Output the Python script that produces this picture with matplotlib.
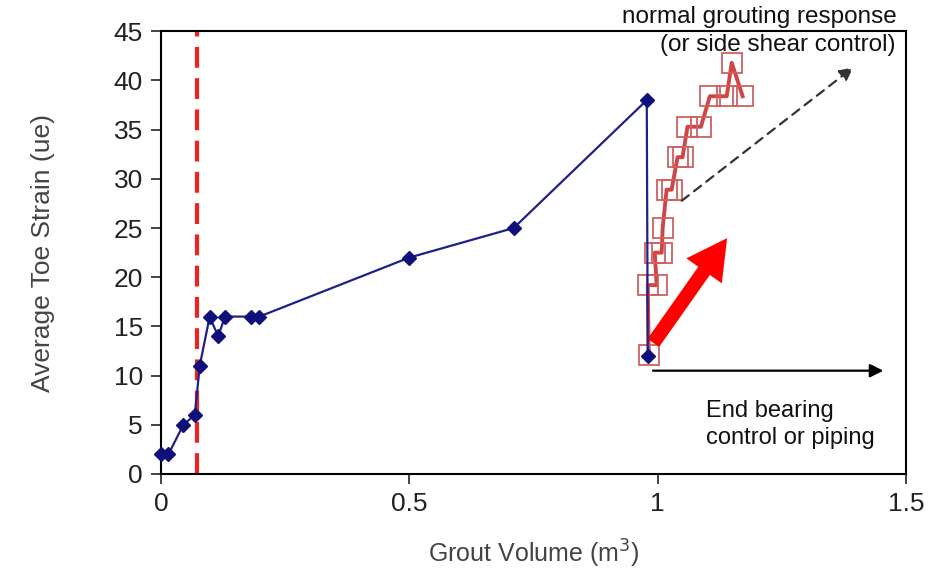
import matplotlib.pyplot as plt
import numpy as np

plt.rcParams['font.family'] = ['Liberation Sans', 'DejaVu Sans']

# blue series (grouting record)
vol_blue = [0.0, 0.015, 0.045, 0.068, 0.078, 0.098, 0.115, 0.129, 0.182, 0.198, 0.50, 0.71, 0.978, 0.980]
strain_blue = [2, 2, 5, 6, 11, 16, 14, 16, 16, 16, 22, 25, 38, 12]

# red series (normal response)
vol_red = [0.982, 0.980, 0.998, 0.994, 1.008, 1.010, 1.018, 1.028, 1.040, 1.050,
           1.060, 1.087, 1.105, 1.139, 1.149, 1.171]
strain_red = [12.1, 19.2, 19.2, 22.5, 22.5, 25.0, 28.9, 28.9, 32.2, 32.2,
              35.3, 35.3, 38.4, 38.4, 41.8, 38.4]

vline_x = 0.073
xticks = [0, 0.5, 1, 1.5]
yticks = list(range(0, 46, 5))

fig = plt.figure(figsize=(9.36, 5.69), dpi=100)
ax = fig.add_axes([0.172, 0.167, 0.796, 0.778])

ax.plot(vol_red, strain_red, color='#d04545', lw=2.8, marker='s', ms=14,
        mfc='none', mec='#d06060', mew=1.3, zorder=3)
ax.plot(vol_blue, strain_blue, color='#20208a', lw=1.6, marker='D', ms=7,
        mfc='#10107a', mec='#10107a', clip_on=False, zorder=4)

ax.axvline(vline_x, color='#ee2222', lw=3, ls=(0, (5, 2.5)), zorder=2)

# arrows
ax.annotate('', xy=(1.46, 10.5), xytext=(0.985, 10.5),
            arrowprops=dict(arrowstyle='-|>', color='black', lw=1.6, mutation_scale=20))
ax.annotate('', xy=(1.398, 41.5), xytext=(1.044, 27.6),
            arrowprops=dict(arrowstyle='-|>', color='#333333', lw=1.6, ls=(0, (4, 3)),
                            mutation_scale=20))
ax.annotate('', xy=(1.143, 24.2), xytext=(0.988, 13.1),
            arrowprops=dict(arrowstyle='simple,head_width=2.6,head_length=2.4,tail_width=0.85',
                            color='#ff0000', lw=0, mutation_scale=12))

ax.text(1.098, 5.0, 'End bearing\ncontrol or piping', fontsize=17, ha='left',
        va='center', linespacing=1.3, color='#111111')
fig.text(0.958, 0.97, 'normal grouting response', fontsize=17.5, ha='right', va='center',
         color='#111111')
ax.text(1.478, 43.6, '(or side shear control)', fontsize=17.5, ha='right', va='center',
        color='#111111')

ax.set_xlim(0, 1.5)
ax.set_ylim(0, 45)
ax.set_xticks(xticks)
ax.set_xticklabels(['0', '0.5', '1', '1.5'])
ax.set_yticks(yticks)
ax.tick_params(labelsize=19, direction='out', length=7, width=1.2, colors='#222222', pad=6)
for s in ax.spines.values():
    s.set_linewidth(1.5)

ax.set_xlabel('Grout Volume (m$^3$)', fontsize=18, color='#444444', labelpad=16)
ax.set_ylabel('Average Toe Strain (ue)', fontsize=19, color='#444444', labelpad=42)

fig.savefig('out.png', dpi=100)
